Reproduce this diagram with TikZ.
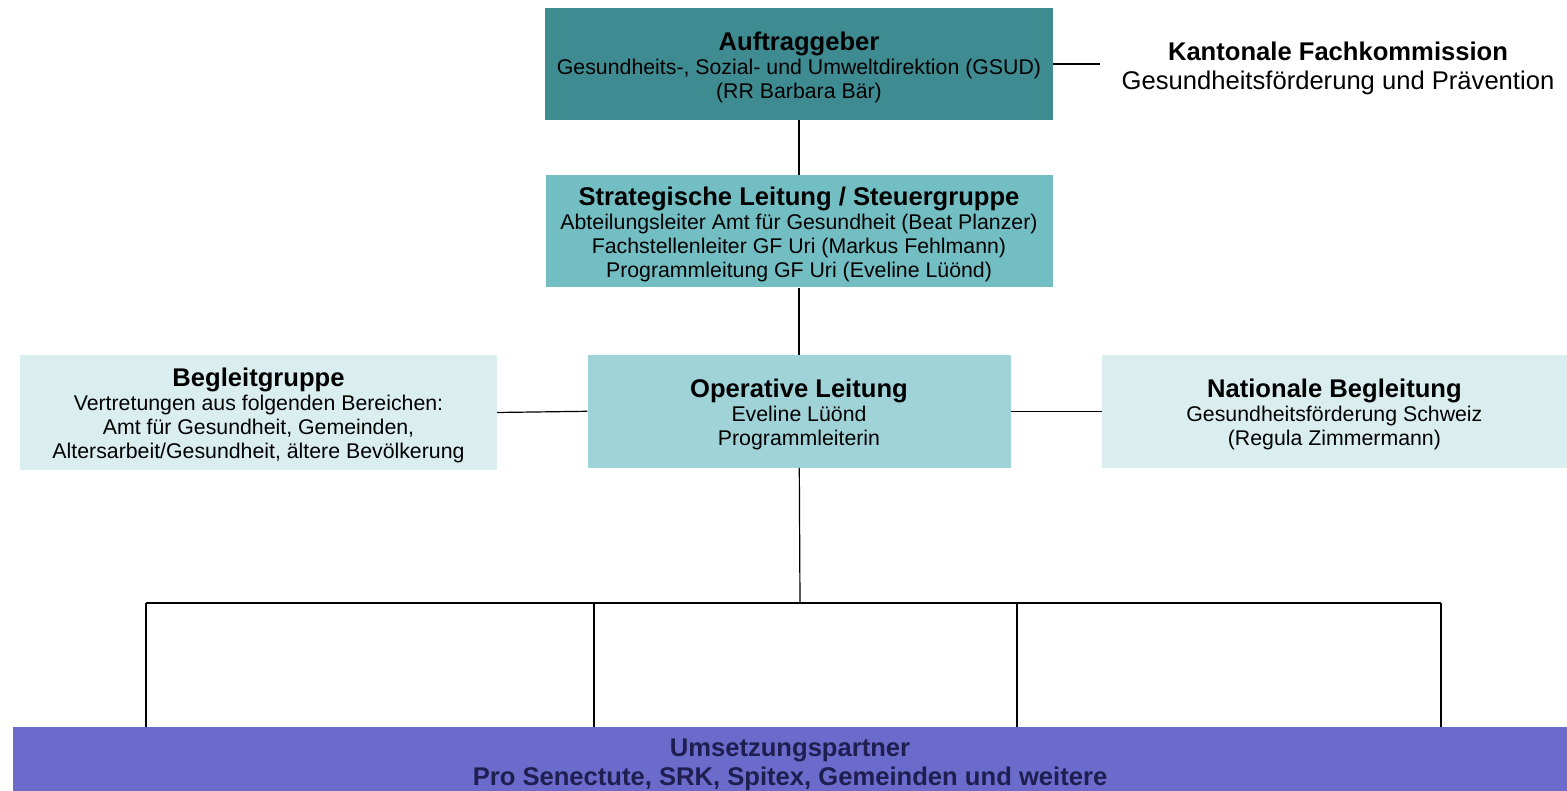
\documentclass[tikz,border=0pt]{standalone}
\usepackage{fontspec}
\setmainfont{Liberation Sans}
\usetikzlibrary{positioning, calc}
\definecolor{auftragfarbe}{HTML}{3E8B91}
\definecolor{stratfarbe}{HTML}{72BEC3}
\definecolor{operfarbe}{HTML}{A0D3D8}
\definecolor{begleitfarbe}{HTML}{DAEEF0}
\definecolor{umsetzfarbe}{HTML}{6B6BCC}
\definecolor{umsetztext}{HTML}{1E1E50}
\tikzset{
	every node/.style={
		align=center,
	},
	orgbox/.style={inner sep=0pt, font=\fontsize{21.3}{24}\selectfont},
	linie/.style={line width=1.2pt},
}
\newcommand{\oben}{\rule{0pt}{25pt}}
\newcommand{\titelzeile}[1]{{\fontsize{25.6}{26}\selectfont\bfseries\oben #1}}

\begin{document}
\begin{tikzpicture}[x=1pt, y=1pt]
		\useasboundingbox (0,0) rectangle (1567,791);
		
		\node[orgbox, fill=auftragfarbe, minimum width=508, minimum height=112] (auftrag) at (799,727)
			{\titelzeile{Auftraggeber}\\ Gesundheits-, Sozial- und Umweltdirektion (GSUD)\\ (RR Barbara Bär)};
		\node[orgbox, inner xsep=21.5pt, font=\fontsize{25.6}{29}\selectfont] (kanton) at (1338,726)
			{\oben\textbf{Kantonale Fachkommission}\\ Gesundheitsförderung und Prävention};
		
		\node[orgbox, fill=stratfarbe, minimum width=507, minimum height=112, below=55 of auftrag] (strat)
			{\titelzeile{Strategische Leitung / Steuergruppe}\\ Abteilungsleiter Amt für Gesundheit (Beat Planzer)\\ Fachstellenleiter GF Uri (Markus Fehlmann)\\ Programmleitung GF Uri (Eveline Lüönd)};
		
		\node[orgbox, fill=operfarbe, minimum width=423, minimum height=113, below=67 of strat] (oper)
			{\titelzeile{Operative Leitung}\\ Eveline Lüönd\\ Programmleiterin};
		
		\node[orgbox, fill=begleitfarbe, minimum width=477, minimum height=115] (begleit) at (258.5,378.5)
			{\titelzeile{Begleitgruppe}\\ Vertretungen aus folgenden Bereichen:\\ Amt für Gesundheit, Gemeinden,\\ Altersarbeit/Gesundheit, ältere Bevölkerung};
		\node[orgbox, fill=begleitfarbe, minimum width=465, minimum height=113, right=91 of oper] (national)
			{\titelzeile{Nationale Begleitung}\\ Gesundheitsförderung Schweiz\\ (Regula Zimmermann)};
		
		\node[orgbox, fill=umsetzfarbe, text=umsetztext, minimum width=1554, minimum height=68, font=\fontsize{25.6}{29}\selectfont\bfseries] (umsetz) at (790,30)
			{\oben Umsetzungspartner\\ Pro Senectute, SRK, Spitex, Gemeinden und weitere};
		
		% Verbindungen
		\draw[linie] (auftrag) -- (strat);
		\draw[linie] (strat) -- (oper);
		\draw[linie] (auftrag.east) -- (auftrag.east -| kanton.west);
		\draw[linie] (begleit.east) -- (oper.west);
		\draw[linie] (oper.east) -- (national.west);
		
		\coordinate (bus) at (800,188);
		\coordinate (b1) at (146,188);
		\coordinate (b2) at (594,188);
		\coordinate (b3) at (1017,188);
		\coordinate (b4) at (1441,188);
		\draw[linie] (oper) -- (bus);
		\draw[linie] (b1) -- (b4);
		\foreach \b in {b1,b2,b3,b4}
			\draw[linie] (\b) -- (\b |- umsetz.north);
		
	\end{tikzpicture}
\end{document}
